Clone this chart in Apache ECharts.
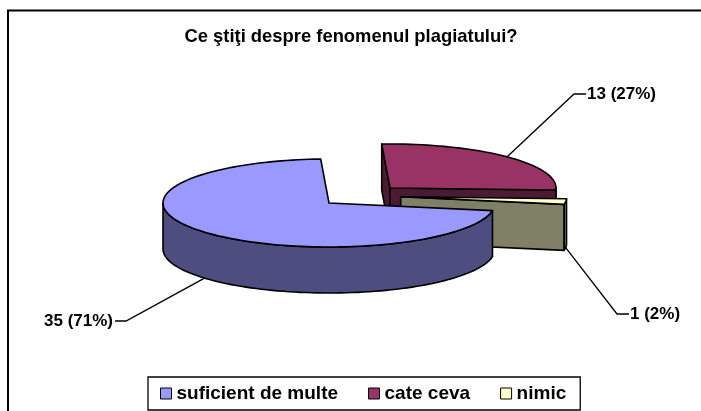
<!DOCTYPE html>
<html><head><meta charset="utf-8">
<style>html,body{margin:0;padding:0;background:#fff}#c{width:701px;height:411px}</style>
<script src="https://cdn.jsdelivr.net/npm/echarts@6/dist/echarts.min.js"></script>
</head><body><div id="c"></div>
<script>
const chartTitle = 'Ce ştiţi despre fenomenul plagiatului?';
const categories = ['suficient de multe', 'cate ceva', 'nimic'];
const values = [35, 13, 1];
const percents = [71, 27, 2];

const topColors = ['#9999FF', '#993366', '#FFFFCC'];
const sideColors = ['#4D4D80', '#4D1A33', '#808066'];
const FONT = '"Liberation Sans", Arial, sans-serif';
const startAngle = 100;            // clockwise from 12 o'clock
const rx = 166, ry = 44, depth = 46;
const centers = [[329, 203], [390, 188], [400.7, 196.7]];
const labelBends = [[126, 321], [574, 94], [617, 314]];
const labelEnds = [[115, 321], [586, 94], [629, 314]];
const labelAlign = ['right', 'left', 'left'];
const drawOrder = [3, 1, 2];

const total = values.reduce((a, b) => a + b, 0);
const sweeps = values.map(v => v / total * 360);
const starts = sweeps.map((_, i) => startAngle + sweeps.slice(0, i).reduce((a, b) => a + b, 0));

function pt(c, deg, dz) {
  const t = deg * Math.PI / 180;
  return [c[0] + rx * Math.sin(t), c[1] - ry * Math.cos(t) + (dz || 0)];
}
function arc(c, a, b, dz) {
  const n = Math.max(2, Math.ceil(Math.abs(b - a) / 2));
  const out = [];
  for (let i = 0; i <= n; i++) out.push(pt(c, a + (b - a) * i / n, dz));
  return out;
}
function renderSlice(i) {
  return function () {
    const c = centers[i], a = starts[i], b = a + sweeps[i];
    const line = { stroke: '#000', lineWidth: 1.6, lineJoin: 'round' };
    const kids = [];
    const poly = (points, fill) => kids.push({ type: 'polygon', shape: { points }, style: Object.assign({ fill }, line) });
    const wall = (deg) => {
      const p = pt(c, deg);
      poly([c, p, [p[0], p[1] + depth], [c[0], c[1] + depth]], sideColors[i]);
    };
    const norm = d => ((d % 360) + 360) % 360;
    if (i !== 0 && Math.cos(a * Math.PI / 180) > 0.5) wall(a);
    if (i !== 0 && Math.cos(b * Math.PI / 180) < 0.05) wall(b);
    const shift = norm(a) > norm(b) ? 360 : 0;
    let f = Math.max(norm(a) - shift, 90), t = Math.min(norm(a) - shift + sweeps[i], 270);
    if (t > f) poly(arc(c, f, t, 0).concat(arc(c, t, f, depth)), sideColors[i]);
    poly([c].concat(arc(c, a, b, 0)), topColors[i]);
    const mid = norm(a + sweeps[i] / 2);
    const anchor = pt(c, mid, mid > 90 && mid < 270 ? depth : 0);
    kids.push({ type: 'polyline', z2: 5, shape: { points: [anchor, labelBends[i], labelEnds[i]] }, style: { stroke: '#000', lineWidth: 1.3, fill: null } });
    kids.push({
      type: 'text', z2: 5, x: labelEnds[i][0] + (labelAlign[i] === 'left' ? 1 : -2), y: labelEnds[i][1],
      style: { text: values[i] + ' (' + percents[i] + '%)', align: labelAlign[i], verticalAlign: 'middle', fill: '#000', font: 'bold 17px ' + FONT }
    });
    return { type: 'group', children: kids };
  };
}

const chart = echarts.init(document.getElementById('c'), null, { renderer: 'canvas' });
chart.setOption({
  animation: false,
  backgroundColor: '#fff',
  title: { text: chartTitle, left: 351, top: 28, textAlign: 'center', padding: 0,
    textStyle: { fontFamily: FONT, fontWeight: 'bold', fontSize: 18.4, color: '#000' } },
  legend: {
    data: categories, left: 148, top: 377, orient: 'horizontal', padding: [7, 14, 7, 12],
    itemWidth: 11, itemHeight: 11, itemGap: 30, icon: 'rect',
    borderColor: '#000', borderWidth: 1.3, backgroundColor: '#fff', selectedMode: false,
    textStyle: { fontFamily: FONT, fontWeight: 'bold', fontSize: 19, color: '#000' },
    itemStyle: { borderColor: '#000', borderWidth: 1 }
  },
  graphic: [{ type: 'polyline', silent: true, shape: { points: [[8, 411], [8, 10.5], [701, 10.5]] }, style: { stroke: '#000', lineWidth: 2, fill: null } }],
  series: categories.map((name, i) => ({
    type: 'custom', name, coordinateSystem: 'none', z: drawOrder[i], silent: true,
    itemStyle: { color: topColors[i] },
    data: [values[i]], renderItem: renderSlice(i)
  }))
});
</script></body></html>
